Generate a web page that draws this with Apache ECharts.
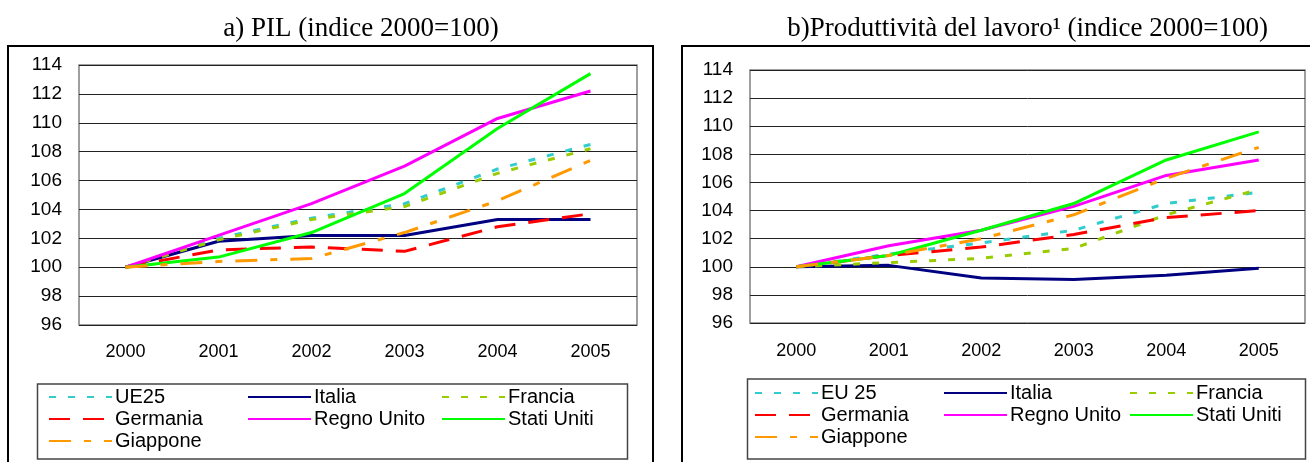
<!DOCTYPE html>
<html>
<head>
<meta charset="utf-8">
<script src="https://cdn.jsdelivr.net/npm/echarts@6/dist/echarts.min.js"></script>
<style>
  html, body { margin: 0; padding: 0; background: #fff; }
  #chart { width: 1310px; height: 462px; }
</style>
</head>
<body>
<div id="chart"></div>
<script>
var years = ['2000', '2001', '2002', '2003', '2004', '2005'];

// a) PIL (indice 2000=100)
var ue25Pil      = [100, 102.0, 103.4, 104.4, 106.8, 108.5];
var italiaPil    = [100, 101.8, 102.2, 102.2, 103.3, 103.3];
var franciaPil   = [100, 101.9, 103.3, 104.2, 106.5, 108.2];
var germaniaPil  = [100, 101.2, 101.4, 101.1, 102.8, 103.7];
var regnoPil     = [100, 102.2, 104.4, 107.0, 110.3, 112.2];
var usaPil       = [100, 100.7, 102.4, 105.1, 109.6, 113.4];
var giapponePil  = [100, 100.4, 100.6, 102.4, 104.6, 107.4];

// b) Produttivita del lavoro (indice 2000=100)
var eu25Prod     = [100, 100.9, 101.7, 102.6, 104.5, 105.3];
var italiaProd   = [100, 100.1, 99.2, 99.1, 99.4, 99.9];
var franciaProd  = [100, 100.3, 100.6, 101.3, 103.7, 105.5];
var germaniaProd = [100, 100.8, 101.4, 102.3, 103.5, 104.0];
var regnoProd    = [100, 101.5, 102.6, 104.3, 106.5, 107.6];
var usaProd      = [100, 100.8, 102.6, 104.5, 107.6, 109.6];
var giapponeProd = [100, 100.8, 102.0, 103.7, 106.3, 108.5];

var font = 'Liberation Sans';
var styles = {
    eu:       { color: '#33CCCC', type: [7, 12] },
    italia:   { color: '#000080', type: 'solid' },
    francia:  { color: '#99CC00', type: [7, 12] },
    germania: { color: '#FF0000', type: [21, 13] },
    regno:    { color: '#FF00FF', type: 'solid' },
    usa:      { color: '#00FF00', type: 'solid' },
    giappone: { color: '#FF9900', type: [22, 13, 7, 13] }
};

function mkSeries(name, key, data, idx){
    var s = styles[key];
    return {
        name: name,
        type: 'line',
        xAxisIndex: idx,
        yAxisIndex: idx,
        data: data,
        symbol: 'none',
        color: s.color,
        lineStyle: { color: s.color, width: 3, type: s.type },
        animation: false
    };
}

function mkLegend(names, left, top){
    return {
        data: names,
        orient: 'vertical',
        left: left,
        top: top,
        itemWidth: 63,
        itemHeight: 14,
        itemGap: 2,
        padding: 0,
        selectedMode: false,
        itemStyle: { opacity: 0 },
        textStyle: { fontFamily: font, fontSize: 20, color: '#000', padding: [0, 0, 0, -2] }
    };
}

function yAx(idx){
    return {
        type: 'value', gridIndex: idx, min: 96, max: 114, interval: 2,
        axisLine: { show: false }, axisTick: { show: false },
        axisLabel: { fontFamily: font, fontSize: 19, color: '#000', margin: 17 },
        splitLine: { lineStyle: { color: '#222', width: 1 } }
    };
}
function xAx(idx, margin){
    return {
        type: 'category', gridIndex: idx, data: years, boundaryGap: true,
        axisLine: { show: false }, axisTick: { show: false },
        axisLabel: { fontFamily: font, fontSize: 18, color: '#000', margin: margin }
    };
}

var chart = echarts.init(document.getElementById('chart'));
var option = {
    backgroundColor: '#fff',
    animation: false,
    title: [
        { text: 'a) PIL (indice 2000=100)', left: 361, top: 15, textAlign: 'center', padding: 0,
          textStyle: { fontFamily: 'Liberation Serif', fontSize: 27, fontWeight: 'normal', color: '#000' } },
        { text: 'b)Produttività del lavoro¹ (indice 2000=100)', right: 42, top: 15, padding: 0,
          textStyle: { fontFamily: 'Liberation Serif', fontSize: 27, fontWeight: 'normal', color: '#000' } }
    ],
    grid: [
        { left: 79, top: 65, width: 558, height: 260, show: true, borderColor: '#808080', borderWidth: 1.5 },
        { left: 750, top: 70, width: 555, height: 253, show: true, borderColor: '#808080', borderWidth: 1.5 }
    ],
    xAxis: [xAx(0, 18), xAx(1, 19)],
    yAxis: [yAx(0), yAx(1)],
    legend: [
        mkLegend(['UE25', 'Germania', 'Giappone'], 48, 387),
        mkLegend(['Italia', 'Regno Unito'], 247, 387),
        mkLegend(['Francia', 'Stati Uniti'], 441, 387),
        mkLegend(['EU 25', 'Germania', 'Giappone'], 754, 383),
        mkLegend(['Italia', 'Regno Unito'], 943, 383),
        mkLegend(['Francia', 'Stati Uniti'], 1129, 383)
    ],
    graphic: [
        { type: 'rect', shape: { x: 8, y: 46, width: 645, height: 440 }, style: { fill: 'none', stroke: '#000', lineWidth: 2 }, silent: true },
        { type: 'rect', shape: { x: 682, y: 46, width: 650, height: 440 }, style: { fill: 'none', stroke: '#000', lineWidth: 2 }, silent: true },
        { type: 'rect', shape: { x: 37.5, y: 384, width: 590, height: 75 }, style: { fill: 'none', stroke: '#444', lineWidth: 1.5 }, silent: true },
        { type: 'rect', shape: { x: 747.5, y: 379, width: 558, height: 80 }, style: { fill: 'none', stroke: '#444', lineWidth: 1.5 }, silent: true }
    ],
    series: [
        mkSeries('UE25', 'eu', ue25Pil, 0),
        mkSeries('Italia', 'italia', italiaPil, 0),
        mkSeries('Francia', 'francia', franciaPil, 0),
        mkSeries('Germania', 'germania', germaniaPil, 0),
        mkSeries('Regno Unito', 'regno', regnoPil, 0),
        mkSeries('Stati Uniti', 'usa', usaPil, 0),
        mkSeries('Giappone', 'giappone', giapponePil, 0),
        mkSeries('EU 25', 'eu', eu25Prod, 1),
        mkSeries('Italia', 'italia', italiaProd, 1),
        mkSeries('Francia', 'francia', franciaProd, 1),
        mkSeries('Germania', 'germania', germaniaProd, 1),
        mkSeries('Regno Unito', 'regno', regnoProd, 1),
        mkSeries('Stati Uniti', 'usa', usaProd, 1),
        mkSeries('Giappone', 'giappone', giapponeProd, 1)
    ]
};
chart.setOption(option);
</script>
</body>
</html>
